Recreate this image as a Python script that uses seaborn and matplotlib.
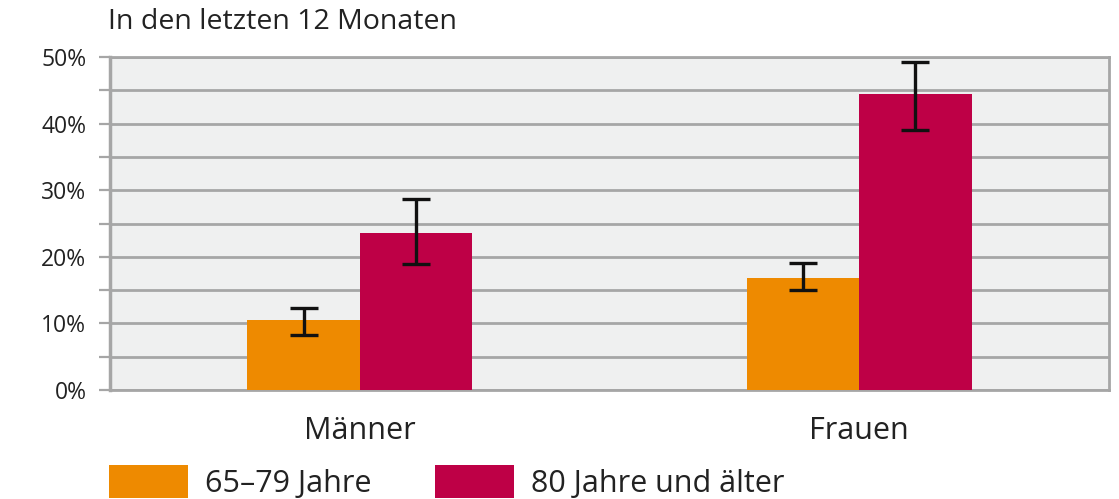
import numpy as np
import pandas as pd
import matplotlib.pyplot as plt
import seaborn as sns
from matplotlib.ticker import MultipleLocator, FuncFormatter
from matplotlib.patches import Patch

# values
groups = ["Männer", "Frauen"]
ages = ["65–79 Jahre", "80 Jahre und älter"]
values = {"65–79 Jahre": [10.5, 16.8], "80 Jahre und älter": [23.6, 44.4]}
err_low = {"65–79 Jahre": [8.3, 15.0], "80 Jahre und älter": [18.9, 39.1]}
err_high = {"65–79 Jahre": [12.3, 19.0], "80 Jahre und älter": [28.7, 49.2]}
colors = ["#EE8A00", "#BE0046"]

rows = []
for a in ages:
    for g, v in zip(groups, values[a]):
        rows.append({"Gruppe": g, "Alter": a, "Anteil": v})
df = pd.DataFrame(rows)

sns.set_theme(style="white")
plt.rcParams["font.family"] = ["Open Sans", "DejaVu Sans"]
grid_col = "#A6A6A6"
text_col = "#222222"

fig = plt.figure(figsize=(11.19, 4.99), dpi=100)
ax = fig.add_axes([0.0983, 0.2184, 0.8928, 0.6673])
ax.set_facecolor("#EFF0F0")

sns.barplot(data=df, x="Gruppe", y="Anteil", hue="Alter", order=groups,
            hue_order=ages, palette=colors, width=0.45, saturation=1,
            linewidth=0, ax=ax, legend=False, zorder=3)

# error bars at the bar centres
for i, a in enumerate(ages):
    for j, g in enumerate(groups):
        bar = ax.patches[i * len(groups) + j]
        xc = bar.get_x() + bar.get_width() / 2
        v = values[a][j]
        ax.errorbar(xc, v, yerr=[[v - err_low[a][j]], [err_high[a][j] - v]],
                    fmt="none", ecolor="#111111", elinewidth=2.4,
                    capsize=10, capthick=2.4, zorder=4)

ax.set_xlim(-0.5, 1.5)
ax.set_ylim(0, 50)
ax.yaxis.set_major_locator(MultipleLocator(10))
ax.yaxis.set_minor_locator(MultipleLocator(5))
ax.yaxis.set_major_formatter(FuncFormatter(lambda v, p: f"{v:.0f}%"))
ax.grid(axis="y", which="both", color=grid_col, linewidth=2, zorder=0)
ax.set_axisbelow(True)
ax.tick_params(axis="y", which="both", direction="out", length=8, width=1.6,
               color=grid_col, labelsize=16.5, labelcolor=text_col, pad=9, left=True)
ax.tick_params(axis="x", length=0, labelsize=22, labelcolor=text_col, pad=19)
ax.set_xlabel("")
ax.set_ylabel("")
for s in ax.spines.values():
    s.set_color(grid_col)
    s.set_linewidth(2)
ax.spines["left"].set_linewidth(2.5)

fig.text(0.0965, 0.956, "In den letzten 12 Monaten", fontsize=20.5,
         color=text_col, va="center", ha="left")

handles = [Patch(facecolor=c, edgecolor="none") for c in colors]
fig.legend(handles, ages, loc="lower left", bbox_to_anchor=(0.076, -0.049),
           ncol=2, frameon=False, fontsize=22, handlelength=2.56,
           handleheight=1.3, handletextpad=0.56, columnspacing=2.1,
           labelcolor=text_col, borderpad=0.3)

fig.savefig("out.png", dpi=100)
